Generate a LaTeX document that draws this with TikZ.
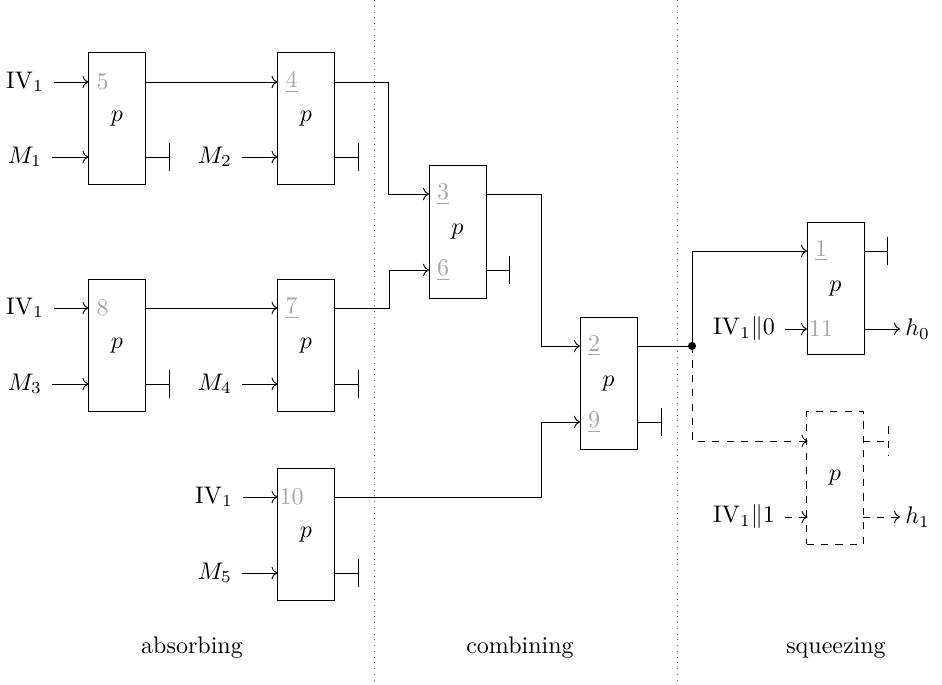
\documentclass[tikz,border=0pt]{standalone}
\usetikzlibrary{arrows.meta}
\begin{document}
\begin{tikzpicture}[x=0.41667pt,y=-0.41667pt,
 box/.style={draw, minimum width=23.75pt, minimum height=55.4pt, inner sep=0pt},
 dbox/.style={box, dashed},
 num/.style={text=black!35, inner sep=0pt},
 inl/.style={anchor=east, inner sep=4pt},
 outl/.style={anchor=west, inner sep=2pt},
 link/.style={->},
 term/.style={-{Bar[width=12pt]}},
 sep/.style={dotted, black!60},
 phase/.style={anchor=base}]
\useasboundingbox (0,0) rectangle (942,685);

% separators
\coordinate (s1t) at (374,0); \coordinate (s1b) at (374,685);
\coordinate (s2t) at (677,0); \coordinate (s2b) at (677,685);
\draw[sep] (s1t) -- (s1b);
\draw[sep] (s2t) -- (s2b);

% ---------- Box A ----------
\node[box] (A) at (117,118.5) {$p$};
\node[num] (nA) at (102.5,82) {5};
\coordinate (A1) at (88.5,82); \coordinate (A2) at (88.5,157);
\coordinate (A1o) at (145.5,82); \coordinate (A2o) at (145.5,157);
\coordinate (At) at (170,157);
\node[inl] (iA) at (54,82) {$\mathrm{IV}_1$};
\node[inl] (mA) at (52,157) {$M_1$};
\draw[link] (iA) -- (A1);
\draw[link] (mA) -- (A2);
\draw[term] (A2o) -- (At);

% ---------- Box B ----------
\node[box] (B) at (306,118.5) {$p$};
\node[num] (nB) at (291.5,82) {\underline{4}};
\coordinate (B1) at (277.5,82); \coordinate (B2) at (277.5,157);
\coordinate (B1o) at (334.5,82); \coordinate (B2o) at (334.5,157);
\coordinate (Bt) at (359,157);
\node[inl] (mB) at (242,157) {$M_2$};
\draw[link] (A1o) -- (B1);
\draw[link] (mB) -- (B2);
\draw[term] (B2o) -- (Bt);

% ---------- Box E ----------
\node[box] (E) at (117,345.5) {$p$};
\node[num] (nE) at (102.5,308) {8};
\coordinate (E1) at (88.5,308); \coordinate (E2) at (88.5,384);
\coordinate (E1o) at (145.5,308); \coordinate (E2o) at (145.5,384);
\coordinate (Et) at (170,384);
\node[inl] (iE) at (54,308) {$\mathrm{IV}_1$};
\node[inl] (mE) at (52,384) {$M_3$};
\draw[link] (iE) -- (E1);
\draw[link] (mE) -- (E2);
\draw[term] (E2o) -- (Et);

% ---------- Box F ----------
\node[box] (F) at (306,345.5) {$p$};
\node[num] (nF) at (291.5,308) {\underline{7}};
\coordinate (F1) at (277.5,308); \coordinate (F2) at (277.5,384);
\coordinate (F1o) at (334.5,308); \coordinate (F2o) at (334.5,384);
\coordinate (Ft) at (359,384);
\node[inl] (mF) at (242,384) {$M_4$};
\draw[link] (E1o) -- (F1);
\draw[link] (mF) -- (F2);
\draw[term] (F2o) -- (Ft);

% ---------- Box G ----------
\node[box] (G) at (306,534.5) {$p$};
\node[num] (nG) at (291.5,497) {10};
\coordinate (G1) at (277.5,497); \coordinate (G2) at (277.5,573);
\coordinate (G1o) at (334.5,497); \coordinate (G2o) at (334.5,573);
\coordinate (Gt) at (359,573);
\node[inl] (iG) at (243,497) {$\mathrm{IV}_1$};
\node[inl] (mG) at (242,573) {$M_5$};
\draw[link] (iG) -- (G1);
\draw[link] (mG) -- (G2);
\draw[term] (G2o) -- (Gt);

% ---------- Box C ----------
\node[box] (C) at (457.5,232) {$p$};
\node[num] (nC1) at (443,194) {\underline{3}};
\node[num] (nC2) at (443,270) {\underline{6}};
\coordinate (C1) at (429,194); \coordinate (C2) at (429,270);
\coordinate (C1o) at (486,194); \coordinate (C2o) at (486,270);
\coordinate (Ct) at (510,270);
\draw[link] (B1o) -- ++(53.5,0) |- (C1);
\draw[link] (F1o) -- ++(54.5,0) |- (C2);
\draw[term] (C2o) -- (Ct);

% ---------- Box D ----------
\node[box] (D) at (608.5,383.5) {$p$};
\node[num] (nD1) at (594,346) {\underline{2}};
\node[num] (nD2) at (594,422) {\underline{9}};
\coordinate (D1) at (580,346); \coordinate (D2) at (580,422);
\coordinate (D1o) at (637,346); \coordinate (D2o) at (637,422);
\coordinate (Dt) at (662,422);
\draw[link] (C1o) -- ++(55,0) |- (D1);
\draw[link] (G1o) -- ++(207,0) |- (D2);
\draw[term] (D2o) -- (Dt);

% ---------- Box H ----------
\node[box] (H) at (835.5,288.5) {$p$};
\node[num] (nH1) at (821,251) {\underline{1}};
\node[num] (nH2) at (821,329) {11};
\coordinate (H1) at (807,251); \coordinate (H2) at (807,329);
\coordinate (H1o) at (864,251); \coordinate (H2o) at (864,329);
\coordinate (Ht) at (888,251);
\coordinate (dot) at (692,346);
\draw (D1o) -- (dot);
\draw[link] (dot) |- (H1);
\draw[term] (H1o) -- (Ht);
\node[inl] (iH) at (785,329) {$\mathrm{IV}_1\|0$};
\node[outl] (h0) at (900,329) {$h_0$};
\draw[link] (iH) -- (H2);
\draw[link] (H2o) -- (h0);

% ---------- Box I (dashed) ----------
\node[dbox] (I) at (835,478) {$p$};
\coordinate (I1) at (807.5,441); \coordinate (I2) at (807.5,517);
\coordinate (I1o) at (862.5,441); \coordinate (I2o) at (862.5,517);
\coordinate (It) at (888,441);
\draw[link,dashed] (dot) |- (I1);
\draw[dashed] (I1o) -- (It);
\draw[dashed] (It) ++(0,-14.5) -- ++(0,29);
\node[inl] (iI) at (785,517) {$\mathrm{IV}_1\|1$};
\node[outl] (h1) at (900,517) {$h_1$};
\draw[link,dashed] (iI) -- (I2);
\draw[link,dashed] (I2o) -- (h1);

\fill (dot) circle (1.7pt);

% phase labels
\node[phase] (ph1) at (192,654) {absorbing};
\node[phase] (ph2) at (520,654) {combining};
\node[phase] (ph3) at (836,654) {squeezing};
\end{tikzpicture}
\end{document}
